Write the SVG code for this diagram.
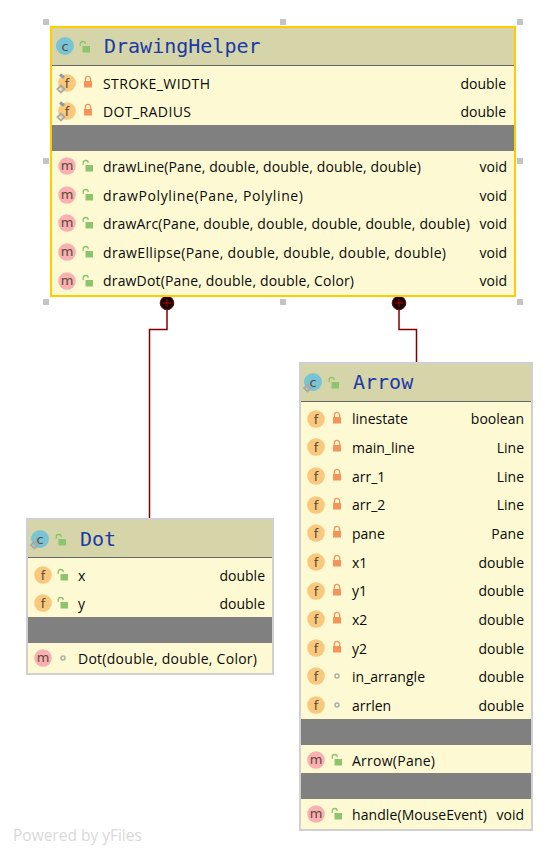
<svg xmlns="http://www.w3.org/2000/svg" xmlns:xlink="http://www.w3.org/1999/xlink" width="558" height="856" viewBox="0 0 558 856">
<style>
text{font-family:"Open Sans","Noto Sans","Liberation Sans",sans-serif;font-size:14px;fill:#0a0a0a}
.t{font-family:"DejaVu Sans Mono","Liberation Mono",monospace;font-size:20px;fill:#1a3aa5}
.i{font-family:"DejaVu Sans",sans-serif;font-size:13px;fill:#5a4a3a;text-anchor:middle}
.r{text-anchor:end}
.body{fill:#fdf9d2}
.head{fill:#d6d4a9}
.gray{fill:#808080}
.sel{fill:none;stroke:#ffcc00;stroke-width:2}
.box{fill:none;stroke:#d0d0d0;stroke-width:2}
.hl{stroke:#666;stroke-width:1}
.h{fill:#c4c4c4}
.c{fill:none;stroke:#800000;stroke-width:1.5}
.pw{font-family:"Open Sans","Liberation Sans",sans-serif;font-size:15.500px;fill:#d9d9d9}
</style>
<defs>
<g id="lock"><path d="M-2.600-1V-3a2.600 2.600 0 0 1 5.200 0V-1" fill="none" stroke="#f4935a" stroke-width="1.300"/><rect x="-4" y="-1" width="8" height="6.500" fill="#f4935a"/></g>
<g id="open"><path d="M-4.800-1V-3a2.500 2.500 0 0 1 5 0" fill="none" stroke="#8cc56c" stroke-width="1.300"/><rect x="-2.500" y="-1" width="7.500" height="6.500" fill="#8cc56c"/></g>
<g id="pkg"><circle r="2" fill="none" stroke="#a9b0a9" stroke-width="1.500"/></g>
<g id="f"><circle r="8.800" fill="#f9c87c"/><text class="i" y="4.500">f</text></g>
<g id="m"><circle r="8.800" fill="#f9b0b0"/><text class="i" y="4">m</text></g>
<g id="c"><circle r="9" fill="#79c4d4"/><text class="i" y="4.500">c</text></g>
<path id="dia" d="M0-3.500L3.500 0 0 3.500-3.500 0z" fill="none" stroke="#a5aaa8" stroke-width="1.800"/>
<g id="st"><use href="#f"/><path d="M-7-8.500L-3-5.500" stroke="#8e9aa8" stroke-width="3" fill="none"/><use href="#dia" x="-6" y="6"/></g>
<rect id="hd" class="h" width="6" height="6"/>
<g id="plus"><circle r="6.800" fill="#100000" stroke="#800000" stroke-width="1"/><path d="M-4 0H4M0-4V4" stroke="#c00000" stroke-width="1"/></g>
</defs>
<g id="connectors">
<path class="c" d="M167 303V329.500H149.500V519"/>
<path class="c" d="M399 303V329.500H416.500V363"/>
<use href="#plus" x="167" y="303"/>
<use href="#plus" x="399" y="303"/>
</g>
<g id="handles">
<use href="#hd" x="43" y="19"/><use href="#hd" x="280" y="19"/><use href="#hd" x="517" y="19"/>
<use href="#hd" x="43" y="158"/><use href="#hd" x="517" y="158"/>
<use href="#hd" x="43" y="299"/><use href="#hd" x="280" y="299"/><use href="#hd" x="517" y="299"/>
</g>
<g id="DrawingHelper">
<rect class="body" x="51" y="27" width="464" height="269"/>
<rect class="head" x="51" y="27" width="464" height="38.500"/>
<path class="hl" d="M51 65.500H515"/>
<rect class="gray" x="51" y="125" width="464" height="26"/>
<rect class="sel" x="51" y="27" width="464" height="269"/>
<use href="#c" x="65" y="46"/><use href="#open" x="85" y="47"/>
<text class="t" x="104" y="53">DrawingHelper</text>
<use href="#st" x="67" y="83"/><use href="#lock" x="88" y="82"/><text x="103" y="88.500" textLength="107">STROKE_WIDTH</text><text class="r" x="506" y="88.500">double</text>
<use href="#st" x="67" y="111"/><use href="#lock" x="88" y="110"/><text x="103" y="116.500" textLength="88">DOT_RADIUS</text><text class="r" x="506" y="116.500">double</text>
<use href="#m" x="67" y="166"/><use href="#open" x="88" y="166"/><text x="103" y="172" textLength="318">drawLine(Pane, double, double, double, double)</text><text class="r" x="507" y="172">void</text>
<use href="#m" x="67" y="195"/><use href="#open" x="88" y="195"/><text x="103" y="201" textLength="200">drawPolyline(Pane, Polyline)</text><text class="r" x="507" y="201">void</text>
<use href="#m" x="67" y="223"/><use href="#open" x="88" y="223"/><text x="103" y="229" textLength="367">drawArc(Pane, double, double, double, double, double)</text><text class="r" x="507" y="229">void</text>
<use href="#m" x="67" y="252"/><use href="#open" x="88" y="252"/><text x="103" y="258" textLength="343">drawEllipse(Pane, double, double, double, double)</text><text class="r" x="507" y="258">void</text>
<use href="#m" x="67" y="281"/><use href="#open" x="88" y="281"/><text x="103" y="286" textLength="251">drawDot(Pane, double, double, Color)</text><text class="r" x="507" y="286">void</text>
</g>
<g id="Dot">
<rect class="body" x="27" y="519" width="246" height="155"/>
<rect class="head" x="27" y="519" width="246" height="38.500"/>
<path class="hl" d="M27 557.500H273"/>
<rect class="gray" x="27" y="617" width="246" height="26"/>
<rect class="box" x="27" y="519" width="246" height="155"/>
<use href="#c" x="40" y="539"/><use href="#dia" x="34.500" y="545"/><use href="#open" x="61" y="540"/>
<text class="t" x="80" y="546">Dot</text>
<use href="#f" x="43" y="575"/><use href="#open" x="63" y="575"/><text x="78" y="581">x</text><text class="r" x="265" y="581">double</text>
<use href="#f" x="43" y="603"/><use href="#open" x="63" y="603"/><text x="78" y="609">y</text><text class="r" x="265" y="609">double</text>
<use href="#m" x="43" y="658"/><use href="#pkg" x="63" y="658"/><text x="78" y="664" textLength="179">Dot(double, double, Color)</text>
</g>
<g id="Arrow">
<rect class="body" x="300" y="363" width="232" height="467"/>
<rect class="head" x="300" y="363" width="232" height="38.500"/>
<path class="hl" d="M300 401.500H532"/>
<rect class="gray" x="300" y="719" width="232" height="26"/>
<rect class="gray" x="300" y="773" width="232" height="26"/>
<rect class="box" x="300" y="363" width="232" height="467"/>
<use href="#c" x="313" y="382"/><use href="#dia" x="307.500" y="388"/><use href="#open" x="334" y="383"/>
<text class="t" x="353" y="389">Arrow</text>
<use href="#f" x="316" y="419"/><use href="#lock" x="337" y="418"/><text x="352" y="424">linestate</text><text class="r" x="524" y="424">boolean</text>
<use href="#f" x="316" y="447"/><use href="#lock" x="337" y="446"/><text x="352" y="453">main_line</text><text class="r" x="524" y="453">Line</text>
<use href="#f" x="316" y="476"/><use href="#lock" x="337" y="475"/><text x="352" y="482">arr_1</text><text class="r" x="524" y="482">Line</text>
<use href="#f" x="316" y="505"/><use href="#lock" x="337" y="504"/><text x="352" y="510">arr_2</text><text class="r" x="524" y="510">Line</text>
<use href="#f" x="316" y="533"/><use href="#lock" x="337" y="532"/><text x="352" y="539">pane</text><text class="r" x="524" y="539">Pane</text>
<use href="#f" x="316" y="562"/><use href="#lock" x="337" y="561"/><text x="352" y="568">x1</text><text class="r" x="524" y="568">double</text>
<use href="#f" x="316" y="591"/><use href="#lock" x="337" y="590"/><text x="352" y="596">y1</text><text class="r" x="524" y="596">double</text>
<use href="#f" x="316" y="619"/><use href="#lock" x="337" y="618"/><text x="352" y="625">x2</text><text class="r" x="524" y="625">double</text>
<use href="#f" x="316" y="648"/><use href="#lock" x="337" y="647"/><text x="352" y="654">y2</text><text class="r" x="524" y="654">double</text>
<use href="#f" x="316" y="676"/><use href="#pkg" x="337" y="676"/><text x="352" y="682" textLength="73">in_arrangle</text><text class="r" x="524" y="682">double</text>
<use href="#f" x="316" y="705"/><use href="#pkg" x="337" y="705"/><text x="352" y="711">arrlen</text><text class="r" x="524" y="711">double</text>
<use href="#m" x="316" y="760"/><use href="#open" x="337" y="760"/><text x="352" y="766" textLength="83">Arrow(Pane)</text>
<use href="#m" x="316" y="814"/><use href="#open" x="337" y="814"/><text x="352" y="820" textLength="135">handle(MouseEvent)</text><text class="r" x="524" y="820">void</text>
</g>
<text class="pw" x="13" y="841">Powered by yFiles</text>
</svg>
